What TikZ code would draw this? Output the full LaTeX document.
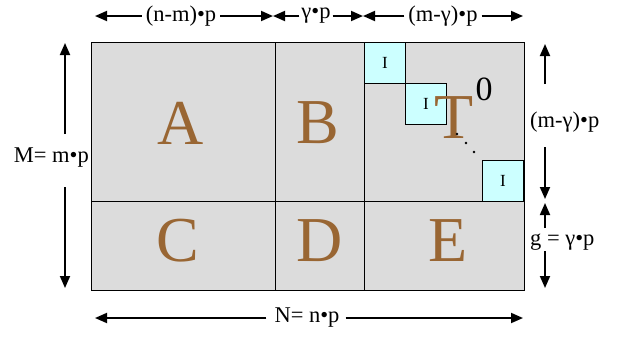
\documentclass[tikz,border=0pt]{standalone}
\usepackage{fontspec}
\setmainfont{Liberation Serif}
\usetikzlibrary{arrows.meta}
\definecolor{blockfill}{HTML}{DCDCDC}
\definecolor{idfill}{HTML}{CCFFFF}
\definecolor{letterbrown}{HTML}{996633}
\begin{document}
\begin{tikzpicture}[x=1pt,y=-1pt,
  blk/.style={draw=black,line width=0.8pt,fill=blockfill},
  idbox/.style={draw=black,line width=0.8pt,fill=idfill,minimum width=41pt,minimum height=41pt,inner sep=0pt,anchor=north west,font=\fontsize{17}{17}\selectfont},
  bigletter/.style={text=letterbrown,font=\fontsize{64}{64}\selectfont,inner sep=0pt},
  dimlabel/.style={font=\fontsize{22.5}{22.5}\selectfont,inner sep=0pt},
  dimarrow/.style={line width=1.8pt,-{Triangle[length=12pt,width=10pt]}}
]
\useasboundingbox (0,0) rectangle (621,341);
% main blocks
\draw[blk] (91,42) rectangle (524,290);
\draw[line width=0.8pt] (91,201) -- (524,201);
\draw[line width=0.8pt] (275,42) -- (275,290);
\draw[line width=0.8pt] (364,42) -- (364,290);
% identity boxes
\node[idbox] (i1) at (364,42) {I};
\node[idbox] (i2) at (405,83) {I};
\node[idbox] (i3) at (482,160) {I};
% letters
\node[bigletter] (A) at (181,123) {A};
\node[bigletter] (B) at (318,123) {B};
\node[bigletter] (C) at (178,241) {C};
\node[bigletter] (D) at (320,241) {D};
\node[bigletter] (E) at (448,241) {E};
\node[bigletter] (T) at (454,118) {T};
\node[font=\fontsize{34}{34}\selectfont,inner sep=0pt] (zero) at (484,89) {0};
\fill (457,134) circle (1.3pt) (466,143) circle (1.3pt) (474,152) circle (1.3pt);
% top dimension labels
\node[dimlabel] (l1) at (181,16) {(n-m)•p};
\node[dimlabel] (l2) at (316,16) {γ•p};
\node[dimlabel] (l3) at (443,16) {(m-γ)•p};
\coordinate (t0) at (95,16);
\coordinate (t1) at (273,16);
\coordinate (t1b) at (363,16);
\coordinate (t2) at (523,16);
\draw[dimarrow] (l1.west) ++(-4,0) -- (t0);
\draw[dimarrow] (l1.east) ++(4,0) -- (t1);
\draw[dimarrow] (l2.west) ++(-2,0) -- (t1);
\draw[dimarrow] (l2.east) ++(2,0) -- (t1b);
\draw[dimarrow] (l3.west) ++(-4,0) -- (t1b);
\draw[dimarrow] (l3.east) ++(4,0) -- (t2);
% left
\node[dimlabel,anchor=east] (M) at (89,158) {M= m•p};
\coordinate (m0) at (65,43);
\coordinate (m1) at (65,288);
\draw[dimarrow] (65,134) -- (m0);
\draw[dimarrow] (65,187) -- (m1);
% right
\node[dimlabel,anchor=west] (r1) at (530,122) {(m-γ)•p};
\node[dimlabel,anchor=west] (r2) at (530,242) {g = γ•p};
\coordinate (r0) at (545,44);
\coordinate (rmid1) at (545,199);
\coordinate (rmid2) at (545,203);
\coordinate (r3) at (545,288);
\draw[dimarrow] (545,84) -- (r0);
\draw[dimarrow] (545,147) -- (rmid1);
\draw[dimarrow] (545,228) -- (rmid2);
\draw[dimarrow] (545,251) -- (r3);
% bottom
\node[dimlabel] (N) at (307,318) {N= n•p};
\coordinate (b0) at (95,318);
\coordinate (b1) at (523,318);
\draw[dimarrow] (N.west) ++(-8,0) -- (b0);
\draw[dimarrow] (N.east) ++(6,0) -- (b1);
\end{tikzpicture}
\end{document}
